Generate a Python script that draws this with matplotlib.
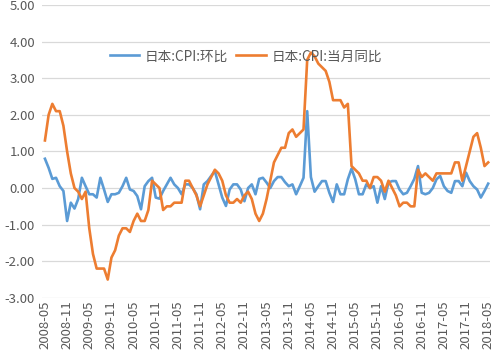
import matplotlib
matplotlib.use("Agg")
import matplotlib.pyplot as plt
import numpy as np

plt.rcParams['font.family'] = ['Noto Sans CJK SC', 'DejaVu Sans']
plt.rcParams['axes.unicode_minus'] = False

# monthly data, 2008-05 .. 2018-05
start_year, start_month = 2008, 5

cpi_mom = [0.8, 0.55, 0.25, 0.28, 0.05, -0.08, -0.9, -0.4, -0.56, -0.3,
           0.28, 0.05, -0.17, -0.17, -0.26, 0.28, -0.04, -0.38, -0.17, -0.17,
           -0.13, 0.05, 0.28, -0.04, -0.08, -0.22, -0.58, 0.05, 0.19, 0.28,
           -0.26, -0.29, -0.08, 0.1, 0.28, 0.1, 0.0, -0.17, 0.1, 0.1,
           0.0, -0.17, -0.58, 0.1, 0.19, 0.33, 0.46, 0.1, -0.26, -0.49,
           -0.04, 0.1, 0.1, -0.04, -0.36, 0.0, 0.1, -0.17, 0.25, 0.28,
           0.15, 0.0, 0.19, 0.3, 0.3, 0.16, 0.05, 0.1, -0.17, 0.05,
           0.28, 2.1, 0.3, -0.1, 0.05, 0.19, 0.19, -0.13, -0.38, 0.1,
           -0.17, -0.17, 0.24, 0.53, 0.24, -0.17, -0.17, 0.1, 0.0, 0.05,
           -0.4, 0.05, -0.3, 0.15, 0.19, 0.19, -0.04, -0.17, -0.13, 0.05,
           0.25, 0.6, -0.13, -0.17, -0.13, 0.0, 0.24, 0.33, 0.05, -0.08,
           -0.13, 0.19, 0.19, 0.05, 0.42, 0.19, 0.05, -0.04, -0.26, -0.08,
           0.12]

cpi_yoy = [1.3, 2.0, 2.3, 2.1, 2.1, 1.7, 1.0, 0.4, 0.0, -0.1,
           -0.3, -0.1, -1.1, -1.8, -2.2, -2.2, -2.2, -2.5, -1.9, -1.7,
           -1.3, -1.1, -1.1, -1.2, -0.9, -0.7, -0.9, -0.9, -0.6, 0.2,
           0.1, 0.0, -0.6, -0.5, -0.5, -0.4, -0.4, -0.4, 0.2, 0.2,
           0.0, -0.2, -0.5, -0.2, 0.1, 0.3, 0.5, 0.4, 0.2, -0.2,
           -0.4, -0.4, -0.3, -0.4, -0.2, -0.1, -0.3, -0.7, -0.9, -0.7,
           -0.3, 0.2, 0.7, 0.9, 1.1, 1.1, 1.5, 1.6, 1.4, 1.5,
           1.6, 3.5, 3.7, 3.6, 3.4, 3.3, 3.2, 2.9, 2.4, 2.4,
           2.4, 2.2, 2.3, 0.6, 0.5, 0.4, 0.2, 0.2, 0.0, 0.3,
           0.3, 0.2, -0.1, 0.2, 0.0, -0.2, -0.5, -0.4, -0.4, -0.5,
           -0.5, 0.5, 0.3, 0.4, 0.3, 0.2, 0.4, 0.4, 0.4, 0.4,
           0.4, 0.7, 0.7, 0.2, 0.6, 1.0, 1.4, 1.5, 1.1, 0.6,
           0.7]

labels = []
for i in range(len(cpi_yoy)):
    y = start_year + (start_month - 1 + i) // 12
    m = (start_month - 1 + i) % 12 + 1
    labels.append(f"{y}-{m:02d}")

x = np.arange(len(cpi_yoy))

fig = plt.figure(figsize=(4.94, 3.58), dpi=100)
ax = fig.add_axes([0.085, 0.168, 0.907, 0.818])

ax.plot(x, cpi_mom, color='#5B9BD5', lw=1.9, label='日本:CPI:环比')
ax.plot(x, cpi_yoy, color='#ED7D31', lw=1.9, label='日本:CPI:当月同比')

ax.set_ylim(-3, 5)
ax.set_yticks(np.arange(-3, 5.01, 1))
ax.set_yticklabels([f"{v:.2f}" for v in np.arange(-3, 5.01, 1)])
ax.set_xlim(-0.8, 120.5)
ax.set_xticks(x[::6])
ax.set_xticklabels(labels[::6], rotation=90)

ax.grid(axis='y', color='#d9d9d9', lw=0.9)
ax.set_axisbelow(True)
for s in ax.spines.values():
    s.set_visible(False)
ax.tick_params(length=0, colors='#595959', labelsize=9.5)
ax.tick_params(axis='x', pad=2)
ax.tick_params(axis='y', pad=5)

ax.legend(loc='center', bbox_to_anchor=(0.455, 0.825), ncol=2, frameon=False,
          fontsize=9.8, labelcolor='#595959', handlelength=2.2,
          columnspacing=0.6, handletextpad=0.4)

fig.savefig('out.png', dpi=100)
